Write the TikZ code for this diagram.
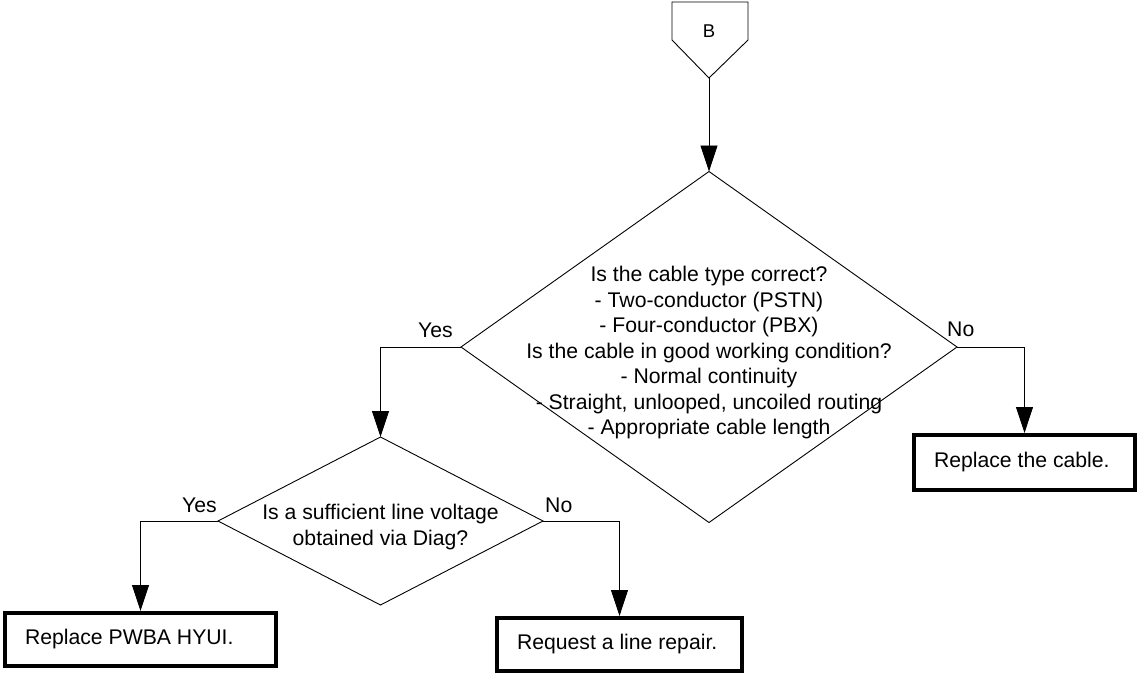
\documentclass[tikz,border=0pt]{standalone}
\usepackage{fontspec}
\setmainfont{Liberation Sans}
\usetikzlibrary{arrows.meta,shapes.geometric}
\begin{document}
\begin{tikzpicture}[x=1pt,y=-1pt,
  thin line/.style={line width=0.9pt,draw=black},
  arr/.style={line width=0.9pt,-{Triangle[length=26pt,width=17pt]}},
  dia/.style={shape=diamond,draw,line width=0.9pt,inner sep=0pt,outer sep=0pt},
  actbox/.style={draw,line width=4pt,inner xsep=20pt,inner ysep=0pt,font=\fontsize{21.2}{25.5}\selectfont},
  txt/.style={font=\fontsize{21.2}{25.5}\selectfont,inner sep=0pt},
]
\useasboundingbox (0,0) rectangle (1139,677);
% off-page connector B
\draw[thin line] (672,2) -- (748,2) -- (748,40) -- (709,78) -- (672,40) -- cycle;
\node[font=\fontsize{18.5}{22}\selectfont,inner sep=0pt] (B) at (709,31) {B};
\coordinate (Bapex) at (709,78);
% main decision
\node[dia,minimum width=496pt,minimum height=351pt] (d1) at (709,347) {};
\node[txt,align=center] (d1t) at (709,353) {Is the cable type correct?\\- Two-conductor (PSTN)\\- Four-conductor (PBX)\\Is the cable in good working condition?\\- Normal continuity\\- Straight, unlooped, uncoiled routing\\- Appropriate cable length};
% second decision
\node[dia,minimum width=325pt,minimum height=168pt] (d2) at (380.5,521) {};
\node[txt,align=center] (d2t) at (380.5,527) {Is a sufficient line voltage\\obtained via Diag?};
% action boxes
\node[actbox,minimum width=271pt,minimum height=53pt] (b1) at (140.5,639.5) {\makebox[231pt][l]{Replace PWBA HYUI.}};
\node[actbox,minimum width=245pt,minimum height=53pt] (b2) at (619.5,644.5) {\makebox[205pt][l]{Request a line repair.}};
\node[actbox,minimum width=221pt,minimum height=55pt] (b3) at (1024.5,462.5) {\makebox[181pt][l]{Replace the cable.}};
% connectors
\draw[arr] (Bapex) -- (d1.north);
\draw[arr] (d1.west) -| (d2.north);
\draw[arr] (d1.east) -| (b3.north);
\draw[arr] (d2.west) -| (b1.north);
\draw[arr] (d2.east) -| (b2.north);
% labels
\node[txt,anchor=base east] (l1) at (453,337) {Yes};
\node[txt,anchor=base west] (l2) at (947,336) {No};
\node[txt,anchor=base east] (l3) at (217,512) {Yes};
\node[txt,anchor=base west] (l4) at (545,512) {No};
\end{tikzpicture}
\end{document}
